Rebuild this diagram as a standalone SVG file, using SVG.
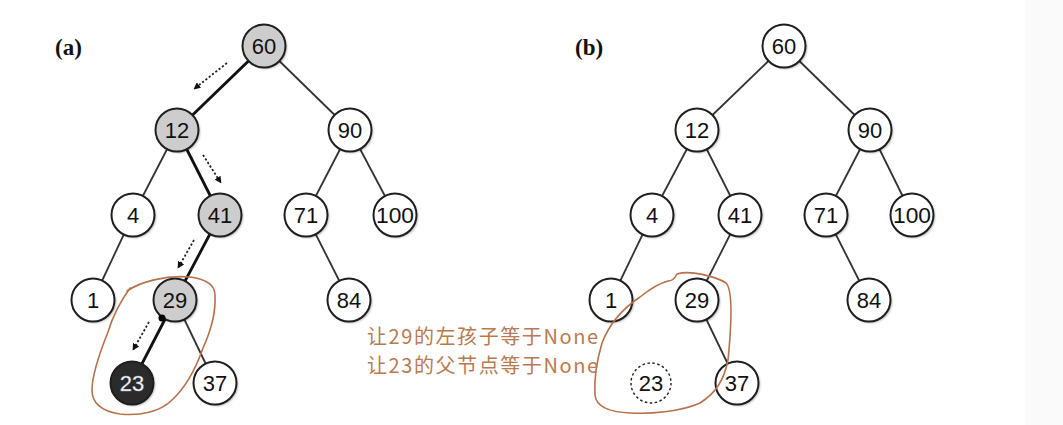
<svg xmlns="http://www.w3.org/2000/svg" width="1063" height="425" viewBox="0 0 1063 425">
<style>
.n circle.c{fill:#fff;stroke:#1e1e1e;stroke-width:2}
.n.g circle.c{fill:#cdcdcd}
.n.k circle.c{fill:#2b2b2b}
.n.d circle.c{stroke-dasharray:2.5,2.5;stroke-width:1.4}
.n circle.s{fill:#000;opacity:0.3}
.n text{font-family:"Liberation Sans",Arial,sans-serif;font-size:22px;fill:#111;text-anchor:middle;dominant-baseline:central}
.n.k text{fill:#fff;stroke:#9ab;stroke-width:0.4}
.e{stroke:#333;stroke-width:1.8;fill:none}
.t{stroke:#111;stroke-width:2.8;fill:none}
.a{stroke:#222;stroke-width:1.8;stroke-dasharray:2.2,2;fill:none}
.lbl{font-family:"Liberation Serif","Times New Roman",serif;font-weight:bold;font-size:23px;fill:#111}
.note{font-family:"Noto Sans CJK SC","Noto Sans",sans-serif;font-size:20px;fill:#b97a50}
.loop{stroke:#b5714a;stroke-width:1.6;fill:none;stroke-linecap:round;stroke-linejoin:round}
</style>
<defs>
<marker id="ah" viewBox="0 0 10 10" refX="9" refY="5" markerWidth="7" markerHeight="7" orient="auto" markerUnits="userSpaceOnUse">
<path d="M0,0 L10,5 L0,10 z" fill="#111"/>
</marker>
<filter id="bl" x="-20%" y="-20%" width="140%" height="140%"><feGaussianBlur stdDeviation="1.2"/></filter>
</defs>
<rect x="0" y="0" width="1063" height="425" fill="#fff"/>
<rect x="1025" y="0" width="38" height="425" fill="#fafafa"/>
<text class="lbl" x="55" y="55">(a)</text>
<text class="lbl" x="575" y="55">(b)</text>
<g id="connectors">
<line class="t" x1="264" y1="46" x2="177" y2="130"/>
<line class="e" x1="264" y1="46" x2="350" y2="130"/>
<line class="e" x1="177" y1="130" x2="133" y2="215"/>
<line class="t" x1="177" y1="130" x2="220" y2="215"/>
<line class="e" x1="350" y1="130" x2="306" y2="215"/>
<line class="e" x1="350" y1="130" x2="395" y2="215"/>
<line class="e" x1="133" y1="215" x2="93" y2="300"/>
<line class="t" x1="220" y1="215" x2="175" y2="300"/>
<line class="e" x1="306" y1="215" x2="349" y2="300"/>
<line class="t" x1="175" y1="300" x2="132" y2="383"/>
<line class="e" x1="175" y1="300" x2="215" y2="383"/>
<line class="a" x1="227" y1="63" x2="194" y2="89" marker-end="url(#ah)"/>
<line class="a" x1="203" y1="155" x2="221" y2="183" marker-end="url(#ah)"/>
<line class="a" x1="194" y1="240" x2="178" y2="268" marker-end="url(#ah)"/>
<line class="a" x1="149" y1="322" x2="133" y2="350" marker-end="url(#ah)"/>
<line class="e" x1="784" y1="46" x2="697" y2="130"/>
<line class="e" x1="784" y1="46" x2="870" y2="130"/>
<line class="e" x1="697" y1="130" x2="652" y2="215"/>
<line class="e" x1="697" y1="130" x2="740" y2="215"/>
<line class="e" x1="870" y1="130" x2="826" y2="215"/>
<line class="e" x1="870" y1="130" x2="912" y2="215"/>
<line class="e" x1="652" y1="215" x2="611" y2="300"/>
<line class="e" x1="740" y1="215" x2="697" y2="300"/>
<line class="e" x1="826" y1="215" x2="869" y2="300"/>
<line class="e" x1="697" y1="300" x2="737" y2="383"/>
</g>
<g id="a60" class="n g"><circle class="s" cx="265.5" cy="47.5" r="21.5" filter="url(#bl)"/><circle class="c" cx="264" cy="46" r="21.5"/><text x="264" y="46">60</text></g>
<g id="a12" class="n g"><circle class="s" cx="178.5" cy="131.5" r="21.5" filter="url(#bl)"/><circle class="c" cx="177" cy="130" r="21.5"/><text x="177" y="130">12</text></g>
<g id="a90" class="n"><circle class="s" cx="351.5" cy="131.5" r="21.5" filter="url(#bl)"/><circle class="c" cx="350" cy="130" r="21.5"/><text x="350" y="130">90</text></g>
<g id="a4" class="n"><circle class="s" cx="134.5" cy="216.5" r="21.5" filter="url(#bl)"/><circle class="c" cx="133" cy="215" r="21.5"/><text x="133" y="215">4</text></g>
<g id="a41" class="n g"><circle class="s" cx="221.5" cy="216.5" r="21.5" filter="url(#bl)"/><circle class="c" cx="220" cy="215" r="21.5"/><text x="220" y="215">41</text></g>
<g id="a71" class="n"><circle class="s" cx="307.5" cy="216.5" r="21.5" filter="url(#bl)"/><circle class="c" cx="306" cy="215" r="21.5"/><text x="306" y="215">71</text></g>
<g id="a100" class="n"><circle class="s" cx="396.5" cy="216.5" r="21.5" filter="url(#bl)"/><circle class="c" cx="395" cy="215" r="21.5"/><text x="395" y="215" textLength="38" lengthAdjust="spacingAndGlyphs">100</text></g>
<g id="a1" class="n"><circle class="s" cx="94.5" cy="301.5" r="21.5" filter="url(#bl)"/><circle class="c" cx="93" cy="300" r="21.5"/><text x="93" y="300">1</text></g>
<g id="a29" class="n g"><circle class="s" cx="176.5" cy="301.5" r="21.5" filter="url(#bl)"/><circle class="c" cx="175" cy="300" r="21.5"/><text x="175" y="300">29</text></g>
<g id="a84" class="n"><circle class="s" cx="350.5" cy="301.5" r="21.5" filter="url(#bl)"/><circle class="c" cx="349" cy="300" r="21.5"/><text x="349" y="300">84</text></g>
<g id="a23" class="n k"><circle class="s" cx="133.5" cy="384.5" r="21.5" filter="url(#bl)"/><circle class="c" cx="132" cy="383" r="21.5"/><text x="132" y="383">23</text></g>
<g id="a37" class="n"><circle class="s" cx="216.5" cy="384.5" r="21.5" filter="url(#bl)"/><circle class="c" cx="215" cy="383" r="21.5"/><text x="215" y="383">37</text></g>
<circle cx="162" cy="318" r="3.5" fill="#000"/>
<g id="b60" class="n"><circle class="s" cx="785.5" cy="47.5" r="21.5" filter="url(#bl)"/><circle class="c" cx="784" cy="46" r="21.5"/><text x="784" y="46">60</text></g>
<g id="b12" class="n"><circle class="s" cx="698.5" cy="131.5" r="21.5" filter="url(#bl)"/><circle class="c" cx="697" cy="130" r="21.5"/><text x="697" y="130">12</text></g>
<g id="b90" class="n"><circle class="s" cx="871.5" cy="131.5" r="21.5" filter="url(#bl)"/><circle class="c" cx="870" cy="130" r="21.5"/><text x="870" y="130">90</text></g>
<g id="b4" class="n"><circle class="s" cx="653.5" cy="216.5" r="21.5" filter="url(#bl)"/><circle class="c" cx="652" cy="215" r="21.5"/><text x="652" y="215">4</text></g>
<g id="b41" class="n"><circle class="s" cx="741.5" cy="216.5" r="21.5" filter="url(#bl)"/><circle class="c" cx="740" cy="215" r="21.5"/><text x="740" y="215">41</text></g>
<g id="b71" class="n"><circle class="s" cx="827.5" cy="216.5" r="21.5" filter="url(#bl)"/><circle class="c" cx="826" cy="215" r="21.5"/><text x="826" y="215">71</text></g>
<g id="b100" class="n"><circle class="s" cx="913.5" cy="216.5" r="21.5" filter="url(#bl)"/><circle class="c" cx="912" cy="215" r="21.5"/><text x="912" y="215" textLength="38" lengthAdjust="spacingAndGlyphs">100</text></g>
<g id="b1" class="n"><circle class="s" cx="612.5" cy="301.5" r="21.5" filter="url(#bl)"/><circle class="c" cx="611" cy="300" r="21.5"/><text x="611" y="300">1</text></g>
<g id="b29" class="n"><circle class="s" cx="698.5" cy="301.5" r="21.5" filter="url(#bl)"/><circle class="c" cx="697" cy="300" r="21.5"/><text x="697" y="300">29</text></g>
<g id="b84" class="n"><circle class="s" cx="870.5" cy="301.5" r="21.5" filter="url(#bl)"/><circle class="c" cx="869" cy="300" r="21.5"/><text x="869" y="300">84</text></g>
<g id="b23" class="n d"><circle class="c" cx="651" cy="383" r="20"/><text x="651" y="383">23</text></g>
<g id="b37" class="n"><circle class="s" cx="738.5" cy="384.5" r="21.5" filter="url(#bl)"/><circle class="c" cx="737" cy="383" r="21.5"/><text x="737" y="383">37</text></g>
<path class="loop" d="M127,291 C140,282 165,275 190,277 C205,279 215,284 215,295 C216,315 209,335 203,348 C196,368 185,388 172,400 C160,412 140,416 120,414 C100,411 92,402 92,390 C92,375 100,352 108,332 C113,315 120,302 130,288"/>
<path class="loop" d="M668,281 C672,281 675,278 677,274 C690,270 715,276 726,283 C733,290 732,320 728,360 C724,380 716,393 700,403 C680,412 650,414 630,413 C606,412 596,405 595,395 C594,380 597,360 602,343 C610,322 625,307 640,297 C650,289 660,283 668,281"/>
<text class="note" x="367" y="344" textLength="231" lengthAdjust="spacing">让29的左孩子等于None</text>
<text class="note" x="367" y="373" textLength="231" lengthAdjust="spacing">让23的父节点等于None</text>
</svg>
